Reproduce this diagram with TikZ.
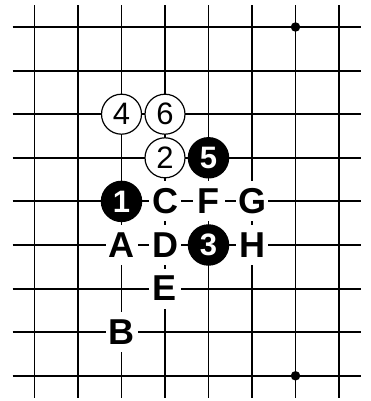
\documentclass[tikz,border=0pt]{standalone}
\usepackage{fontspec}
\setmainfont{Liberation Sans}
\begin{document}
\begin{tikzpicture}[x=43.5pt,y=-43.6pt,
  gridline/.style={line width=1.9pt,black},
  whitestone/.style={circle,draw=black,line width=1.2pt,fill=white,minimum size=40pt,inner sep=0pt,font=\fontsize{31}{31}\selectfont},
  blackstone/.style={circle,fill=black,text=white,minimum size=41.5pt,inner sep=0pt,font=\fontsize{31}{31}\selectfont\bfseries},
  letterbox/.style={fill=white,minimum width=32pt,minimum height=40pt,inner sep=0pt,font=\fontsize{36}{36}\selectfont\bfseries},
  star/.style={circle,fill=black,minimum size=9.5pt,inner sep=0pt}]
\useasboundingbox (-0.7931,-0.6193) rectangle (7.7356,8.578);
\fill[white] (-0.7931,-0.6193) rectangle (7.7356,8.578);
% grid
\foreach \c in {0,...,7} \draw[gridline] (\c,-0.5) -- (\c,8.5);
\foreach \r in {0,...,8} \draw[gridline] (-0.5,\r) -- (7.5,\r);
% star points
\node[star] (s1) at (6,0) {};
\node[star] (s2) at (6,8) {};
% stones
\node[blackstone] (m1) at (2,4) {1};
\node[whitestone] (m2) at (3,3) {2};
\node[blackstone] (m3) at (4,5) {3};
\node[whitestone] (m4) at (2,2) {4};
\node[blackstone] (m5) at (4,3) {5};
\node[whitestone] (m6) at (3,2) {6};
% letters
\node[letterbox] (lA) at (2,5) {A};
\node[letterbox] (lB) at (2,7) {B};
\node[letterbox] (lC) at (3,4) {C};
\node[letterbox] (lD) at (3,5) {D};
\node[letterbox] (lE) at (3,6) {E};
\node[letterbox] (lF) at (4,4) {F};
\node[letterbox] (lG) at (5,4) {G};
\node[letterbox] (lH) at (5,5) {H};
\end{tikzpicture}
\end{document}
